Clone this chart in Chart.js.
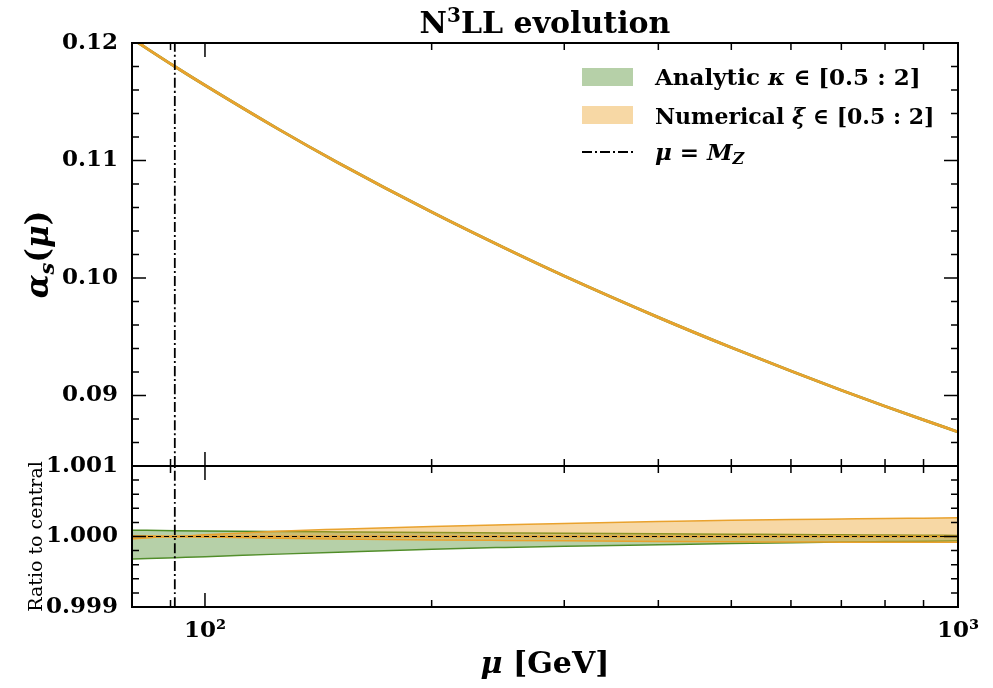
<!DOCTYPE html>
<html>
<head>
<meta charset="utf-8">
<script src="https://cdn.jsdelivr.net/npm/chart.js@4.4.1/dist/chart.umd.min.js"></script>
<style>
html, body { margin: 0; padding: 0; background: #fff; }
</style>
</head>
<body>
<canvas id="c" width="993" height="688"></canvas>
<script>
// mu grid [GeV] and alpha_s values
const mu = [80, 91.19, 100, 125, 150, 200, 250, 300, 400, 500, 600, 700, 800, 900, 1000];
const alphaS = [0.12036, 0.1180, 0.11640, 0.11269, 0.10983, 0.10561, 0.10255, 0.10017, 0.09665, 0.09408, 0.09208, 0.09045, 0.08909, 0.08792, 0.0869];

// ratio to central, envelopes of the scale variations
const analyticUp = [1.00009, 1.000083, 1.000079, 1.000071, 1.000065, 1.000056, 1.00005, 1.000045, 1.000038, 1.000032, 1.000028, 1.000024, 1.000021, 1.000018, 1.000015];
const analyticLo = [0.99968, 0.99970, 0.999714, 0.99975, 0.999778, 0.99982, 0.999845, 0.999863, 0.999884, 0.9999, 0.999912, 0.999921, 0.999928, 0.999934, 0.99994];
const numericalUp = [1.00001, 1.0, 1.000024, 1.000075, 1.000103, 1.000141, 1.000166, 1.000185, 1.000211, 1.00023, 1.000241, 1.000248, 1.000254, 1.00026, 1.000265];
const numericalLo = [0.999965, 1.0, 0.999992, 0.999975, 0.999965, 0.999952, 0.999944, 0.999938, 0.99993, 0.999925, 0.999922, 0.99992, 0.999919, 0.999918, 0.999918];
const ratioCentral = [1, 1, 1, 1, 1, 1, 1, 1, 1, 1, 1, 1, 1, 1, 1];

const MZ = 91.1876;
const xMajor = [100, 1000];
const xMinor = [90, 200, 300, 400, 500, 600, 700, 800, 900];
const yMajor = [0.09, 0.10, 0.11, 0.12];
const yMinor = [0.086, 0.088, 0.092, 0.094, 0.096, 0.098, 0.102, 0.104, 0.106, 0.108, 0.112, 0.114, 0.116, 0.118];
const rMajor = [0.999, 1.000, 1.001];
const rMinor = [0.9992, 0.9994, 0.9996, 0.9998, 1.0002, 1.0004, 1.0006, 1.0008];

const SERIF = '"DejaVu Serif", serif';
const ORANGE = '#E9A22E';
const GREEN = '#4C8A22';
const ORANGE_FILL = 'rgba(236,162,40,0.42)';
const GREEN_FILL = 'rgba(100,155,70,0.47)';
const DASHDOT = [10, 3, 2, 3];

const pts = arr => mu.map((m, i) => ({ x: m, y: arr[i] }));

function line(label, data, axis, color, width, order, extra) {
  return Object.assign({
    label: label, data: data, yAxisID: axis,
    borderColor: color, borderWidth: width, pointRadius: 0,
    fill: false, order: order, cubicInterpolationMode: 'monotone'
  }, extra || {});
}

const datasets = [
  line('mz', [{ x: MZ, y: 0.084 }, { x: MZ, y: 0.12 }], 'y', '#000', 1.8, 0, { borderDash: DASHDOT }),
  line('mz', [{ x: MZ, y: 0.999 }, { x: MZ, y: 1.001 }], 'y2', '#000', 1.8, 0, { borderDash: DASHDOT }),
  line('Numerical', pts(alphaS), 'y', ORANGE, 2.8, 1),
  line('Analytic', pts(alphaS), 'y', GREEN, 2.8, 2),
  line('central', pts(ratioCentral), 'y2', '#000', 1, 1, { borderDash: [5, 3] }),
  line('numUp', pts(numericalUp), 'y2', ORANGE, 1.5, 3, { fill: 6, backgroundColor: ORANGE_FILL }),
  line('numLo', pts(numericalLo), 'y2', ORANGE, 1.5, 3),
  line('numCentral', pts(ratioCentral), 'y2', ORANGE, 2, 2),
  line('anaUp', pts(analyticUp), 'y2', GREEN, 1.5, 5, { fill: 9, backgroundColor: GREEN_FILL }),
  line('anaLo', pts(analyticLo), 'y2', GREEN, 1.5, 5)
];

function drawPieces(c, x, y, pieces) {
  pieces.forEach(p => {
    c.font = p[1];
    c.fillText(p[0], x, y + (p[2] || 0));
    x += c.measureText(p[0]).width;
  });
  return x;
}

function piecesWidth(c, pieces) {
  return pieces.reduce((w, p) => { c.font = p[1]; return w + c.measureText(p[0]).width; }, 0);
}

const frame = {
  id: 'frame',
  afterDraw(chart) {
    const c = chart.ctx, a = chart.chartArea, xs = chart.scales.x;
    const cx = (a.left + a.right) / 2;
    const panels = [[chart.scales.y, yMajor, yMinor], [chart.scales.y2, rMajor, rMinor]];
    c.save();
    c.strokeStyle = '#000';
    c.fillStyle = '#000';
    panels.forEach(p => {
      const s = p[0];
      c.lineWidth = 2;
      c.strokeRect(a.left, s.top, a.right - a.left, s.bottom - s.top);
      c.lineWidth = 1.5;
      c.beginPath();
      [[p[1], 14], [p[2], 7]].forEach(set => {
        set[0].forEach(v => {
          const py = s.getPixelForValue(v);
          c.moveTo(a.left, py); c.lineTo(a.left + set[1], py);
          c.moveTo(a.right, py); c.lineTo(a.right - set[1], py);
        });
      });
      [[xMajor, 14], [xMinor, 7]].forEach(set => {
        set[0].forEach(v => {
          const px = xs.getPixelForValue(v);
          c.moveTo(px, s.top); c.lineTo(px, s.top + set[1]);
          c.moveTo(px, s.bottom); c.lineTo(px, s.bottom - set[1]);
        });
      });
      c.stroke();
    });
    c.textBaseline = 'alphabetic';
    c.textAlign = 'left';

    // title
    const ft = '30px ' + SERIF;
    const title = [['N', 'bold ' + ft], ['3', 'bold 20px ' + SERIF, -11], ['LL evolution', 'bold ' + ft]];
    drawPieces(c, cx - piecesWidth(c, title) / 2, 33, title);

    // legend
    const lx = 582, lw = 51, tx = 655;
    const f = '23px ' + SERIF, f2 = '22px ' + SERIF;
    c.fillStyle = GREEN_FILL;
    c.fillRect(lx, 68, lw, 18);
    c.fillStyle = ORANGE_FILL;
    c.fillRect(lx, 106, lw, 18);
    c.fillStyle = '#000';
    drawPieces(c, tx, 85, [['Analytic ', 'bold ' + f], ['κ', 'italic bold ' + f], [' ∈ [0.5 : 2]', 'bold ' + f]]);
    drawPieces(c, tx, 124, [['Numerical ', 'bold ' + f2], ['ξ', 'italic bold ' + f2], [' ∈ [0.5 : 2]', 'bold ' + f2]]);
    drawPieces(c, tx, 160, [['μ', 'italic bold ' + f], [' = ', 'bold ' + f], ['M', 'italic bold ' + f], ['Z', 'italic bold 16px ' + SERIF, 4]]);
    c.lineWidth = 1.8;
    c.setLineDash(DASHDOT);
    c.beginPath();
    c.moveTo(lx, 152); c.lineTo(lx + lw, 152);
    c.stroke();
    c.setLineDash([]);

    // x axis title
    const fx = '30px ' + SERIF;
    const xt = [['μ', 'italic bold ' + fx], [' [GeV]', 'bold ' + fx]];
    drawPieces(c, cx - piecesWidth(c, xt) / 2, 673, xt);

    // y axis titles
    const top = chart.scales.y;
    c.save();
    c.translate(48, (top.top + top.bottom) / 2);
    c.rotate(-Math.PI / 2);
    const fy = '31px ' + SERIF;
    const yt = [['α', 'italic bold ' + fy], ['s', 'italic bold 21px ' + SERIF, 6], ['(', 'bold ' + fy], ['μ', 'italic bold ' + fy], [')', 'bold ' + fy]];
    drawPieces(c, -piecesWidth(c, yt) / 2, 0, yt);
    c.restore();

    const rs = chart.scales.y2;
    c.save();
    c.translate(42, (rs.top + rs.bottom) / 2);
    c.rotate(-Math.PI / 2);
    c.textAlign = 'center';
    c.font = '19px ' + SERIF;
    c.fillText('Ratio to central', 0, 0);
    c.restore();
    c.restore();
  }
};

const tickFont = { family: SERIF, size: 23, weight: 'bold' };

new Chart(document.getElementById('c'), {
  type: 'line',
  data: { datasets: datasets },
  plugins: [frame],
  options: {
    responsive: false,
    animation: false,
    layout: { padding: { left: 0, right: 35, top: 43, bottom: 0 } },
    plugins: {
      legend: { display: false },
      tooltip: { enabled: false },
      title: { display: false }
    },
    scales: {
      x: {
        type: 'logarithmic',
        min: 80, max: 1000,
        grid: { display: false, drawTicks: false },
        border: { display: false },
        afterBuildTicks: s => { s.ticks = xMajor.map(v => ({ value: v })); },
        afterFit: s => { s.height = 81; },
        ticks: {
          color: '#000', font: tickFont, padding: 10, autoSkip: false, maxRotation: 0,
          callback: v => v === 100 ? '10²' : v === 1000 ? '10³' : ''
        }
      },
      y2: {
        type: 'linear',
        position: 'left',
        stack: 'panels',
        stackWeight: 1,
        min: 0.999, max: 1.001,
        grid: { display: false, drawTicks: false },
        border: { display: false },
        afterBuildTicks: s => { s.ticks = rMajor.map(v => ({ value: v })); },
        afterFit: s => { s.width = 132; },
        ticks: { color: '#000', font: tickFont, padding: 14, callback: v => v.toFixed(3) }
      },
      y: {
        type: 'linear',
        position: 'left',
        stack: 'panels',
        stackWeight: 3,
        min: 0.084, max: 0.12,
        grid: { display: false, drawTicks: false },
        border: { display: false },
        afterBuildTicks: s => { s.ticks = yMajor.map(v => ({ value: v })); },
        afterFit: s => { s.width = 132; },
        ticks: { color: '#000', font: tickFont, padding: 14, callback: v => v.toFixed(2) }
      }
    }
  }
});
</script>
</body>
</html>
